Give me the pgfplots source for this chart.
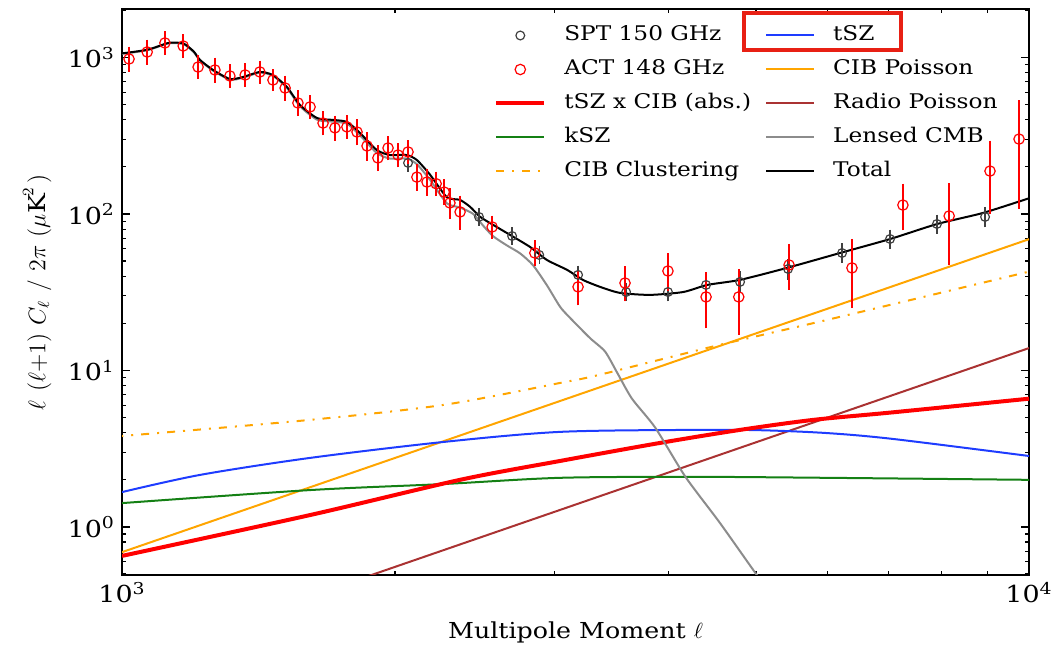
\documentclass[border=0pt]{standalone}
\usepackage{fontspec}
\setmainfont{DejaVu Serif}[FakeStretch=1.15]
\usepackage{pgfplots}
\pgfplotsset{compat=1.18}
\definecolor{cblue}{RGB}{30,60,255}
\definecolor{cgreen}{RGB}{20,128,20}
\definecolor{corange}{RGB}{255,165,0}
\definecolor{cbrown}{RGB}{170,50,50}
\definecolor{cgray}{RGB}{140,140,140}
\definecolor{cred}{RGB}{255,0,0}
\definecolor{boxred}{RGB}{232,32,20}
\begin{document}
\begin{tikzpicture}
\path[use as bounding box] (-61pt,-36.5pt) rectangle (467.5pt,287.5pt);
\begin{axis}[
 scale only axis, width=453.5pt, height=283pt, at={(0,0)}, anchor=south west,
 xmode=log, ymode=log, xmin=1000, xmax=10000, ymin=0.493, ymax=2040,
 axis line style={line width=1pt},
 every tick/.style={black, line width=0.6pt},
 major tick length=4pt, minor tick length=2pt,
 xtick={1000,10000}, xticklabels={10\textsuperscript{3},10\textsuperscript{4}},
 minor xtick={2000,3000,4000,5000,6000,7000,8000,9000},
 ytick={1,10,100,1000}, yticklabels={10\textsuperscript{0},10\textsuperscript{1},10\textsuperscript{2},10\textsuperscript{3}},
 minor ytick={0.5,0.6,0.7,0.8,0.9,2,3,4,5,6,7,8,9,20,30,40,50,60,70,80,90,200,300,400,500,600,700,800,900,2000},
 tick label style={font=\fontsize{11.7}{14}\selectfont},
 xlabel={Multipole Moment $\ell$},
 xlabel style={font=\fontsize{11}{13}\selectfont, at={(axis description cs:0.5,-0.07)}, anchor=north},
 ylabel={$\ell\ (\ell{+}1)\ C_\ell\ /\ 2\pi\ (\mu\mathrm{K}^2\,)$},
 ylabel style={font=\fontsize{11.6}{13}\selectfont, at={(axis description cs:-0.07,0.5)}, anchor=south},
 legend columns=2,
 legend cell align=left,
 legend style={draw=none, fill=none, at={(rel axis cs:0.41,0.976)}, anchor=north west,
   inner sep=0pt, row sep=4.5pt, font=\fontsize{10.1}{12}\selectfont,
   nodes={inner sep=1pt, text height=8pt, text depth=2.5pt},
   /tikz/every odd column/.append style={column sep=8pt},
   /tikz/every even column/.append style={column sep=6pt}},
]
% legend (row-wise order)
\addlegendimage{legend image code/.code={\draw[black!75, line width=0.6pt, mark=o, mark size=2.2pt] plot coordinates {(12pt,0pt)};}}
\addlegendentry{SPT 150 GHz}
\addlegendimage{legend image code/.code={\draw[cblue, line width=1pt] (0pt,0pt) -- (24pt,0pt);}}
\addlegendentry{tSZ}
\addlegendimage{legend image code/.code={\draw[cred, line width=0.6pt, mark=o, mark size=2.6pt] plot coordinates {(12pt,0pt)};}}
\addlegendentry{ACT 148 GHz}
\addlegendimage{legend image code/.code={\draw[corange, line width=1pt] (0pt,0pt) -- (24pt,0pt);}}
\addlegendentry{CIB Poisson}
\addlegendimage{legend image code/.code={\draw[cred, line width=2pt] (0pt,0pt) -- (24pt,0pt);}}
\addlegendentry{tSZ x CIB (abs.)}
\addlegendimage{legend image code/.code={\draw[cbrown, line width=1pt] (0pt,0pt) -- (24pt,0pt);}}
\addlegendentry{Radio Poisson}
\addlegendimage{legend image code/.code={\draw[cgreen, line width=1pt] (0pt,0pt) -- (24pt,0pt);}}
\addlegendentry{kSZ}
\addlegendimage{legend image code/.code={\draw[cgray, line width=1pt] (0pt,0pt) -- (24pt,0pt);}}
\addlegendentry{Lensed CMB}
\addlegendimage{legend image code/.code={\draw[corange, line width=1pt, dash pattern=on 4pt off 4pt on 1pt off 4pt] (0pt,0pt) -- (24pt,0pt);}}
\addlegendentry{CIB Clustering}
\addlegendimage{legend image code/.code={\draw[black, line width=1pt] (0pt,0pt) -- (24pt,0pt);}}
\addlegendentry{Total}

% CIB clustering
\addplot[forget plot, corange, line width=1pt, dash pattern=on 4pt off 4pt on 1pt off 4pt, smooth] coordinates {
(1000,3.82) (1033,3.87) (1611,4.83) (2260,6.02) (3041,8.32) (3366,9.4) (4500,14.3) (6085,21.5) (10000,42.8)};
% CIB Poisson
\addplot[forget plot, corange, line width=1pt] coordinates {(1000,0.69) (10000,69)};
% Radio Poisson
\addplot[forget plot, cbrown, line width=1pt] coordinates {(1800,0.450) (10000,13.9)};
% kSZ
\addplot[forget plot, cgreen, line width=1pt, smooth] coordinates {
(1000,1.42) (1611,1.72) (2260,1.88) (3041,2.06) (4262,2.09) (5988,2.06) (10000,2.0)};
% tSZ
\addplot[forget plot, cblue, line width=1pt, smooth] coordinates {
(1000,1.67) (1219,2.15) (1611,2.76) (2260,3.49) (3041,4.05) (4262,4.17) (5051,4.15) (5988,3.98) (7080,3.65) (10000,2.84)};
% tSZ x CIB
\addplot[forget plot, cred, line width=2pt, smooth] coordinates {
(1000,0.653) (1611,1.19) (2359,2.0) (3041,2.64) (3917,3.44) (4802,4.17) (5781,4.83) (7080,5.4) (10000,6.6)};
% Lensed CMB
\addplot[forget plot, cgray, line width=1pt, smooth, tension=0.4] coordinates {
(1000,1055) (1066,1112) (1121,1225) (1140,1235) (1170,1215) (1200,1080) (1219,956) (1260,824) (1315,721) (1359,742) (1419,800) (1466,764) (1520,639) (1571,488) (1641,400) (1709,389) (1771,377) (1830,318) (1910,245) (1974,226) (2060,226) (2114,208) (2186,165) (2281,117) (2358,110) (2439,100) (2502,84) (2566,72) (2656,63) (2747,56) (2839,47) (2941,35) (3041,25.5) (3118,21.7) (3281,16.1) (3409,13.2) (3518,9.6) (3650,6.6) (3873,4.3) (4180,2.09) (4563,1.06) (5011,0.493) (5100,0.44)};
% Total
\addplot[forget plot, black, line width=1pt, smooth, tension=0.4] coordinates {
(1000,1062) (1066,1120) (1121,1232) (1140,1245) (1170,1225) (1200,1090) (1219,964) (1260,832) (1315,729) (1359,750) (1419,808) (1466,773) (1520,648) (1571,497) (1641,410) (1709,399) (1771,387) (1830,329) (1910,256) (1974,238) (2060,238) (2114,221) (2186,178) (2281,128) (2358,123) (2420,111) (2483,95.7) (2566,85.1) (2679,73.4) (2818,61.5) (2941,50.8) (3096,43.9) (3222,37.9) (3366,34.2) (3540,31.3) (3821,30.4) (4156,31.7) (4419,35.2) (4801,37.9) (5408,45.2) (6190,56.3) (7031,69.2) (7923,86.3) (8897,101.5) (10000,126)};
% SPT
\addplot[forget plot, black!75, only marks, mark=o, mark size=2.2pt, mark options={line width=0.6pt},
 error bars/.cd, y dir=both, y explicit, error mark=-,
 error bar style={line width=0.7pt, black!75}, error mark options={line width=0.7pt, mark size=3pt, black!75}]
coordinates {
(2067,212) +- (0,8) (2475,95.7) +- (0,4) (2692,72.3) +- (0,3) (2884,54.7) +- (0,2.5) (3183,40.8) +- (0,2) (3596,31.7) +- (0,1.5) (3999,31.7) +- (0,1.5) (4405,35.2) +- (0,2.5) (4802,36.8) +- (0,2.5) (5424,44.5) +- (0,3) (6221,56.3) +- (0,3) (7027,69.2) +- (0,3.5) (7917,86.3) +- (0,4.5) (8944,95.7) +- (0,6)};
% ACT
\addplot[forget plot, cred, only marks, mark=o, mark size=2.6pt, mark options={line width=0.6pt},
 error bars/.cd, y dir=both, y explicit, error mark=-,
 error bar style={line width=0.8pt, cred}, error mark options={line width=0.8pt, mark size=3.5pt, cred}]
coordinates {
(1018,978) +- (0,80) (1066,1084) +- (0,90) (1115,1238) +- (0,92) (1168,1184) +- (0,87) (1213,869) +- (0,64) (1266,832) +- (0,67) (1315,762) +- (0,56) (1367,773) +- (0,57) (1419,808) +- (0,54) (1467,718) +- (0,43) (1513,638) +- (0,52) (1563,512) +- (0,45) (1612,483) +- (0,35) (1666,381) +- (0,29) (1717,355) +- (0,29) (1770,360) +- (0,25) (1816,334) +- (0,30) (1863,272) +- (0,29) (1915,228) +- (0,20) (1965,264) +- (0,20) (2015,238) +- (0,18) (2067,249) +- (0,18) (2114,172) +- (0,16) (2169,160) +- (0,15) (2220,156) +- (0,12) (2266,138) +- (0,12) (2299,117.6) +- (0,14) (2359,103) +- (0,15) (2559,82.6) +- (0,5.5) (2852,56.3) +- (0,5) (3183,34.2) +- (0,5.3) (3586,36.2) +- (0,5.6) (3999,43.2) +- (0,7.3) (4405,29.5) +- (0,8.9) (4786,29.5) +- (0,10.7) (5438,47.2) +- (0,10.9) (6380,45.2) +- (0,17.4) (7261,114) +- (0,27) (8165,97.1) +- (0,45) (9057,188) +- (0,77) (9750,301) +- (0,181)};
% annotation box
\draw[boxred, line width=2pt] (rel axis cs:0.6858,0.9929) rectangle (rel axis cs:0.8589,0.9276);
\end{axis}
\end{tikzpicture}
\end{document}
